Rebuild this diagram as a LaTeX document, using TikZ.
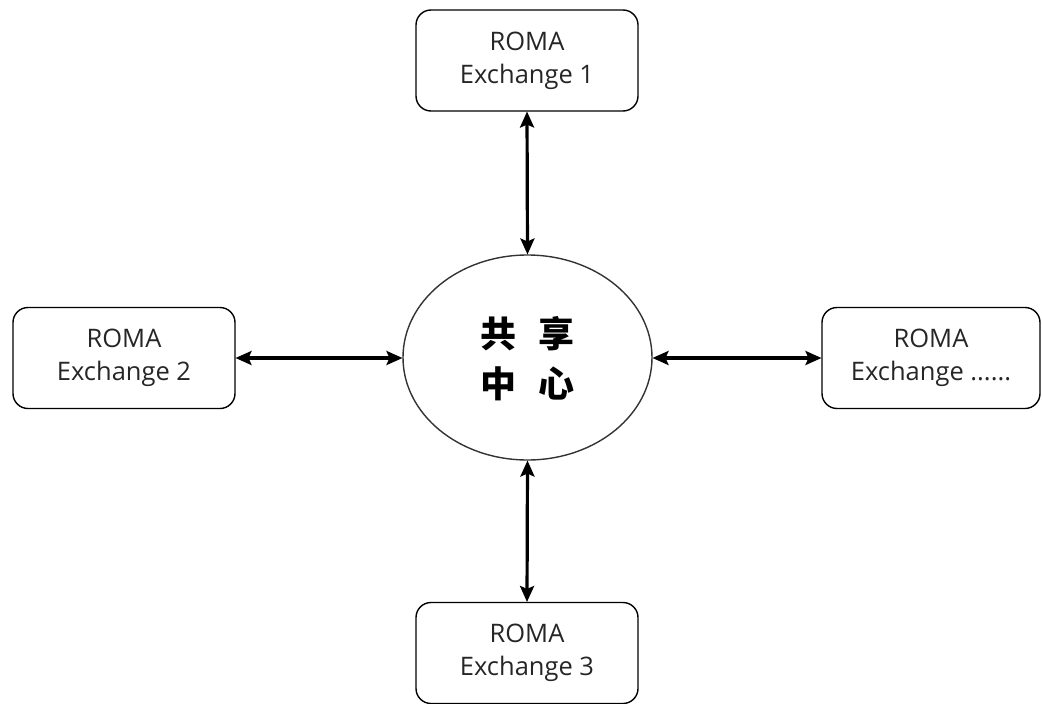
\documentclass[tikz,border=0pt]{standalone}
\usepackage{fontspec}
\setmainfont{Open Sans}
\newfontfamily\cjk{Noto Sans CJK SC}
\usetikzlibrary{arrows.meta}
\begin{document}
\begin{tikzpicture}[x=1pt,y=-1pt,
  exbox/.style={draw=black, line width=1.4pt, rounded corners=15pt, minimum width=222pt, minimum height=101pt, align=center, font=\fontsize{25.5}{33}\selectfont, text=black!85},
  link/.style={line width=3.2pt, {Stealth[length=16pt,width=14pt,inset=3pt]}-{Stealth[length=16pt,width=14pt,inset=3pt]}, shorten <=0.5pt, shorten >=0.5pt}]
\useasboundingbox (0,0) rectangle (1042,704);
\tikzset{every node/.style={inner sep=0pt, outer sep=0pt}}
\node[exbox] (e1) at (527,60.5) {ROMA\\Exchange 1};
\node[exbox] (e2) at (124,358) {ROMA\\Exchange 2};
\node[exbox, minimum width=218pt] (e4) at (931,358) {ROMA\\Exchange ......};
\node[exbox] (e3) at (527,653) {ROMA\\Exchange 3};
\draw[line width=1.4pt, draw=black!80] (527.5,357.5) ellipse [x radius=124.5pt, y radius=102.5pt];
\coordinate (ht) at (527.5,255);
\coordinate (hb) at (527.5,460);
\coordinate (hl) at (403,358);
\coordinate (hr) at (652,358);
\node[font=\cjk\bfseries\fontsize{36}{50}\selectfont, align=center] (hubtext) at (527.5,359) {共\hspace{0.62em}享\\中\hspace{0.62em}心};
\draw[link] (e1.south) -- (ht);
\draw[link] (e3.north) -- (hb);
\draw[link] (e2.east |- hl) -- (hl);
\draw[link] (e4.west |- hr) -- (hr);
\end{tikzpicture}
\end{document}
